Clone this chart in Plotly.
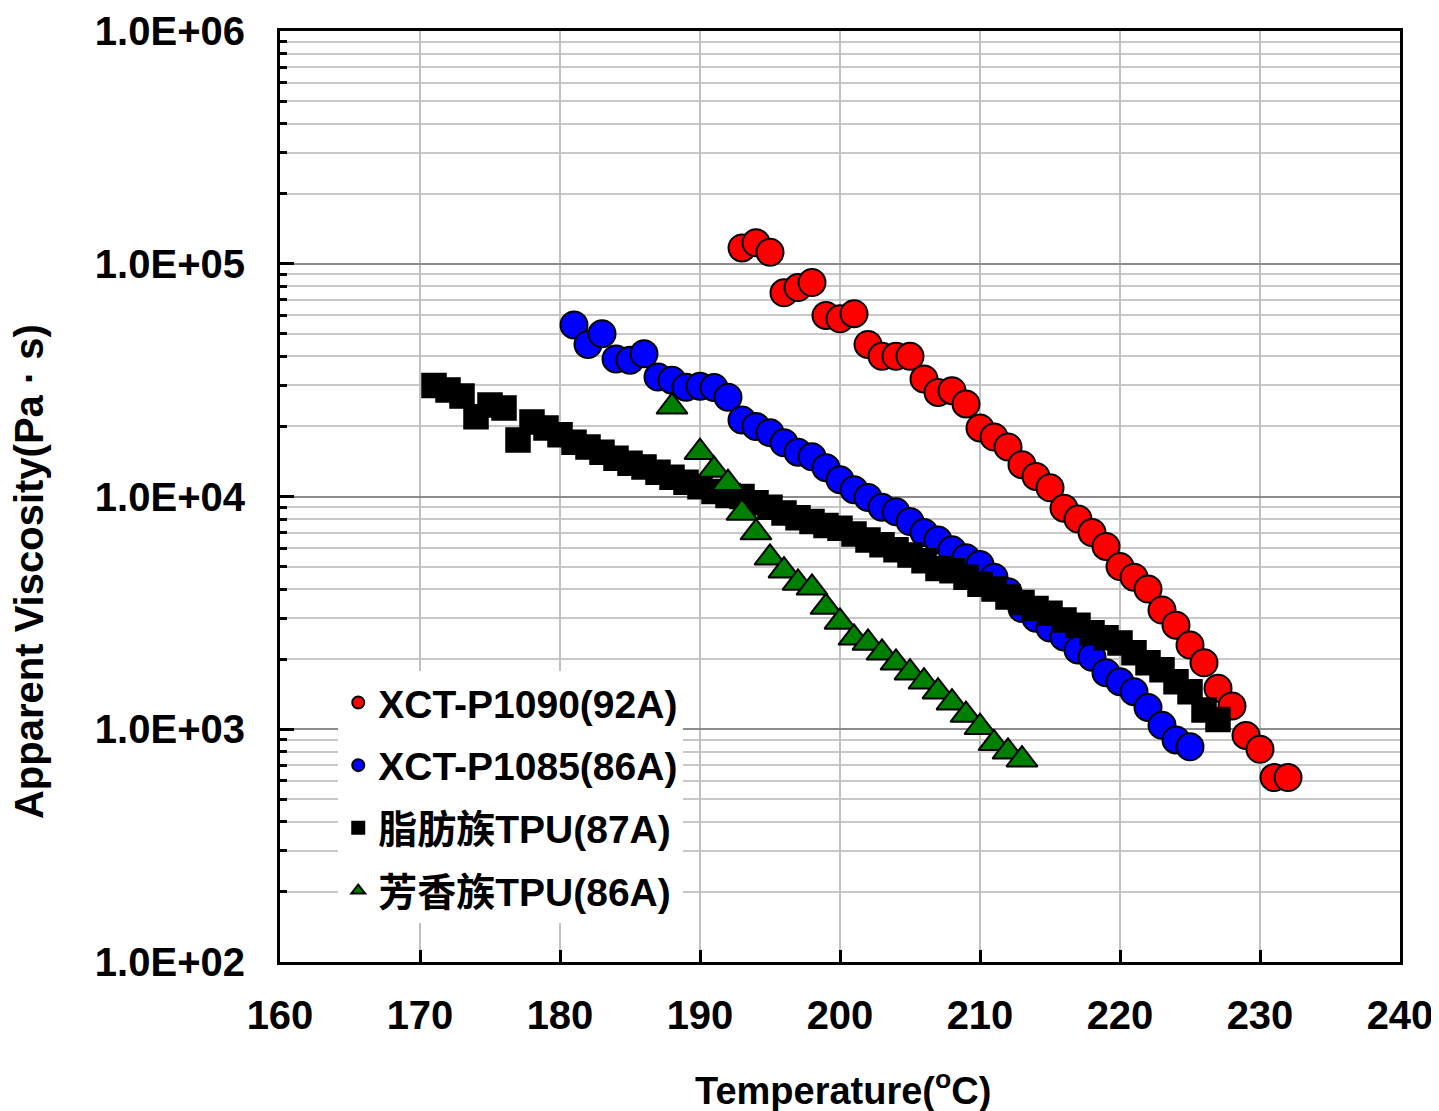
import plotly.graph_objects as go

# ---------------- data ----------------
t_p1090 = list(range(193, 233))
v_p1090 = [1.17e5, 1.23e5, 1.12e5, 7.5e4, 7.9e4, 8.3e4, 6.0e4, 5.8e4, 6.1e4, 4.5e4,
           4.0e4, 4.0e4, 4.0e4, 3.2e4, 2.8e4, 2.85e4, 2.5e4, 1.97e4, 1.8e4, 1.63e4,
           1.37e4, 1.22e4, 1.09e4, 8.9e3, 8.0e3, 7.0e3, 6.1e3, 5.0e3, 4.5e3, 4.0e3,
           3.25e3, 2.8e3, 2.3e3, 1.93e3, 1.5e3, 1.26e3, 9.4e2, 8.2e2, 6.2e2, 6.2e2]

t_p1085 = list(range(181, 226))
v_p1085 = [5.46e4, 4.5e4, 5.0e4, 3.9e4, 3.85e4, 4.1e4, 3.26e4, 3.16e4, 2.95e4, 2.98e4,
           2.94e4, 2.67e4, 2.13e4, 2.0e4, 1.88e4, 1.7e4, 1.55e4, 1.48e4, 1.33e4, 1.18e4,
           1.07e4, 9.9e3, 9.0e3, 8.6e3, 7.8e3, 7.0e3, 6.5e3, 5.9e3, 5.45e3, 5.1e3,
           4.5e3, 3.9e3, 3.3e3, 3.0e3, 2.72e3, 2.49e3, 2.19e3, 2.04e3, 1.75e3, 1.6e3,
           1.45e3, 1.24e3, 1.04e3, 9.0e2, 8.4e2]

t_aliph = list(range(171, 228))
v_aliph = [3.0e4, 2.87e4, 2.7e4, 2.2e4, 2.47e4, 2.4e4, 1.75e4, 2.09e4, 1.97e4, 1.84e4,
           1.71e4, 1.63e4, 1.55e4, 1.46e4, 1.39e4, 1.34e4, 1.27e4, 1.21e4, 1.15e4, 1.1e4,
           1.05e4, 1.01e4, 1.0e4, 9.4e3, 9.0e3, 8.5e3, 8.1e3, 7.8e3, 7.5e3, 7.3e3,
           6.9e3, 6.5e3, 6.2e3, 5.9e3, 5.6e3, 5.3e3, 4.9e3, 4.8e3, 4.5e3, 4.2e3,
           4.0e3, 3.7e3, 3.5e3, 3.3e3, 3.15e3, 2.95e3, 2.8e3, 2.6e3, 2.47e3, 2.35e3,
           2.13e3, 1.93e3, 1.8e3, 1.6e3, 1.45e3, 1.21e3, 1.1e3]

t_arom = [188] + list(range(190, 214))
v_arom = [2.43e4, 1.55e4, 1.3e4, 1.14e4, 8.5e3, 7.0e3, 5.45e3, 4.8e3, 4.25e3, 4.05e3,
          3.35e3, 2.89e3, 2.47e3, 2.35e3, 2.13e3, 1.93e3, 1.75e3, 1.6e3, 1.45e3, 1.3e3,
          1.15e3, 1.02e3, 8.7e2, 8.0e2, 7.4e2]

names = ["XCT-P1090(92A)", "XCT-P1085(86A)", "脂肪族TPU(87A)", "芳香族TPU(86A)"]
x_ticks = [160, 170, 180, 190, 200, 210, 220, 230, 240]
y_ticks = [1e2, 1e3, 1e4, 1e5, 1e6]
y_ticklabels = ["1.0E+02", "1.0E+03", "1.0E+04", "1.0E+05", "1.0E+06"]

FONT = "Liberation Sans, Arial, Noto Sans CJK SC, sans-serif"

fig = go.Figure()
fig.add_trace(go.Scatter(x=t_p1090, y=v_p1090, mode="markers", name=names[0], legendgroup="a",
                         marker=dict(symbol="circle", size=27, color="#ff0000",
                                     line=dict(color="black", width=2))))
fig.add_trace(go.Scatter(x=t_p1085, y=v_p1085, mode="markers", name=names[1], legendgroup="b",
                         marker=dict(symbol="circle", size=27, color="#0000ff",
                                     line=dict(color="black", width=2))))
fig.add_trace(go.Scatter(x=t_aliph, y=v_aliph, mode="markers", name=names[2], legendgroup="c",
                         marker=dict(symbol="square", size=24, color="#000000",
                                     line=dict(color="black", width=1.5))))
fig.add_trace(go.Scatter(x=t_arom, y=v_arom, mode="markers", name=names[3], legendgroup="d",
                         marker=dict(symbol="triangle-up", size=27, color="#008000",
                                     line=dict(color="black", width=2))))

# page body has an 8px default margin, so the figure is sized/offset to compensate
fig.update_layout(
    width=1431, height=1103,
    margin=dict(l=272, r=39, t=23, b=149),
    paper_bgcolor="white", plot_bgcolor="white",
    font=dict(family=FONT, size=38, color="black"),
    showlegend=True,
    legend=dict(x=0.052, y=0.313, xanchor="left", yanchor="top",
                bgcolor="white", borderwidth=0,
                font=dict(family=FONT, size=39, color="black", weight="bold"),
                tracegroupgap=9, traceorder="grouped", itemsizing="constant"),
    xaxis=dict(range=[160, 240], tickvals=x_ticks, ticktext=[f"<b>{v}</b>" for v in x_ticks],
               ticks="inside", ticklen=12, tickwidth=3, tickcolor="black",
               showline=True, linewidth=3, linecolor="black", mirror=True,
               showgrid=True, gridcolor="#c0c0c0", gridwidth=2, automargin=False,
               tickfont=dict(size=40), ticklabelstandoff=16, zeroline=False),
    yaxis=dict(type="log", range=[2, 6], tickvals=y_ticks,
               ticktext=[f"<b>{s}</b>" for s in y_ticklabels],
               ticks="inside", ticklen=14, tickwidth=3, tickcolor="black",
               showline=True, linewidth=3, linecolor="black", mirror=True,
               showgrid=True, gridcolor="#8c8c8c", gridwidth=2, automargin=False,
               tickfont=dict(size=40), ticklabelstandoff=24, zeroline=False,
               minor=dict(dtick="D1", ticks="inside", ticklen=7, tickwidth=3, tickcolor="black",
                          showgrid=True, gridcolor="#c8c8c8", gridwidth=2)),
    annotations=[
        dict(text="<b>Apparent Viscosity(Pa · s)</b>", xref="paper", yref="paper",
             x=-0.224, y=0.419, textangle=-90, showarrow=False,
             font=dict(size=40, family=FONT), xanchor="center", yanchor="middle"),
        dict(text="<b>Temperature(<sup>o</sup>C)</b>", xref="paper", yref="paper",
             x=0.503, y=-0.135, showarrow=False,
             font=dict(size=38, family=FONT), xanchor="center", yanchor="middle"),
    ],
)

fig.write_html("out.html")
